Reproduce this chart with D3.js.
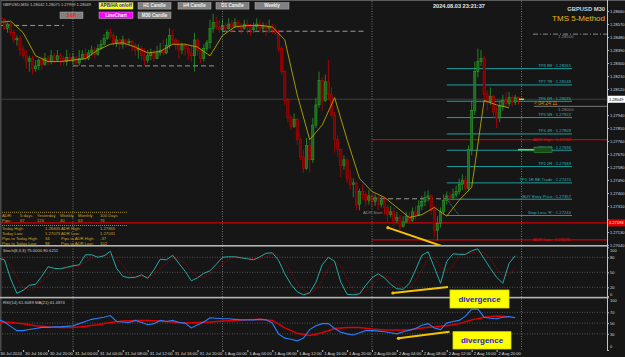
<!DOCTYPE html>
<html><head><meta charset="utf-8">
<script src="https://cdn.jsdelivr.net/npm/d3@7/dist/d3.min.js"></script>
<style>
html,body{margin:0;padding:0;background:#161616;}
svg{display:block;font-family:"Liberation Sans",Arial,sans-serif;}
</style></head><body>
<svg id="chart" width="625" height="357"></svg>
<script>
// GBPUSD M30, 30 Jul 12:00 -> 2 Aug 23:30 (168 bars)
var open0 = 1.2856;
var closes = [
 1.2861,1.2860,1.2854,1.2857,1.2851,1.2846,1.2847,1.2839,1.2835,1.2831,
 1.2833,1.2826,1.2828,1.2832,1.2829,1.2833,1.2831,1.2835,1.2832,1.2835,
 1.2833,1.2831,1.2834,1.2832,1.2834,1.2830,1.2833,1.2836,1.2833,1.2837,
 1.2839,1.2836,1.2840,1.2843,1.2847,1.2851,1.2849,1.2844,1.2846,1.2843,
 1.2846,1.2844,1.2845,1.2842,1.2839,1.2840,1.2835,1.2832,1.2835,1.2837,
 1.2833,1.2837,1.2839,1.2837,1.2842,1.2849,1.2846,1.2843,1.2839,1.2842,
 1.2840,1.2837,1.2835,1.2846,1.2839,1.2833,1.2840,1.2844,1.2854,1.2858,
 1.2855,1.2853,1.2856,1.2854,1.2857,1.2855,1.2858,1.2855,1.2854,1.2857,
 1.2855,1.2853,1.2855,1.2857,1.2854,1.2856,1.2854,1.2855,1.2853,1.2851,
 1.2840,1.2824,1.2804,1.2792,1.2786,1.2791,1.2777,1.2765,1.2757,1.2773,
 1.2763,1.2787,1.2801,1.2818,1.2804,1.2817,1.2808,1.2794,1.2777,1.2770,
 1.2759,1.2763,1.2750,1.2746,1.2747,1.2732,1.2741,1.2739,1.2735,1.2738,
 1.2734,1.2737,1.2732,1.2735,1.2730,1.2725,1.2727,1.2721,1.2723,1.2717,
 1.2720,1.2724,1.2721,1.2727,1.2725,1.2731,1.2734,1.2737,1.2738,1.2728,
 1.2714,1.2719,1.2727,1.2735,1.2738,1.2737,1.2739,1.2741,1.2746,1.2749,
 1.2743,1.2770,1.2797,1.2824,1.2831,1.2833,1.2808,1.2804,1.2807,1.2796,
 1.2792,1.2800,1.2804,1.2802,1.2806,1.2803,1.2806,1.2805];
var highs = [
 1.2864,1.2863,1.2861,1.2858,1.2858,1.2853,1.2849,1.2849,1.2842,1.2839,
 1.2835,1.2835,1.2832,1.2833,1.2835,1.2837,1.2835,1.2839,1.2837,1.2839,
 1.2837,1.2835,1.2839,1.2837,1.2837,1.2835,1.2839,1.2839,1.2840,1.2839,
 1.2842,1.2841,1.2843,1.2846,1.2850,1.2853,1.2854,1.2851,1.2849,1.2847,
 1.2849,1.2847,1.2847,1.2846,1.2844,1.2843,1.2842,1.2840,1.2839,1.2840,
 1.2839,1.2842,1.2844,1.2846,1.2847,1.2854,1.2853,1.2847,1.2846,1.2844,
 1.2843,1.2842,1.2842,1.2851,1.2847,1.2840,1.2843,1.2846,1.2860,1.2864,
 1.2862,1.2860,1.2860,1.2858,1.2861,1.2860,1.2861,1.2860,1.2858,1.2860,
 1.2860,1.2857,1.2858,1.2861,1.2860,1.2858,1.2858,1.2860,1.2857,1.2856,
 1.2853,1.2842,1.2825,1.2806,1.2794,1.2795,1.2792,1.2779,1.2770,1.2778,
 1.2777,1.2792,1.2806,1.2824,1.2820,1.2822,1.2832,1.2813,1.2796,1.2780,
 1.2770,1.2766,1.2764,1.2756,1.2750,1.2748,1.2743,1.2746,1.2741,1.2742,
 1.2739,1.2739,1.2738,1.2738,1.2737,1.2732,1.2731,1.2730,1.2727,1.2725,
 1.2724,1.2727,1.2727,1.2730,1.2731,1.2735,1.2738,1.2741,1.2742,1.2739,
 1.2731,1.2724,1.2730,1.2739,1.2741,1.2741,1.2743,1.2745,1.2750,1.2753,
 1.2752,1.2773,1.2804,1.2831,1.2840,1.2839,1.2835,1.2811,1.2813,1.2808,
 1.2800,1.2804,1.2808,1.2810,1.2810,1.2808,1.2808,1.2807];
var lows = [
 1.2855,1.2857,1.2853,1.2851,1.2849,1.2844,1.2842,1.2835,1.2833,1.2826,
 1.2824,1.2822,1.2824,1.2825,1.2825,1.2828,1.2828,1.2829,1.2830,1.2831,
 1.2828,1.2828,1.2828,1.2831,1.2829,1.2828,1.2828,1.2832,1.2831,1.2832,
 1.2835,1.2833,1.2835,1.2839,1.2842,1.2846,1.2847,1.2842,1.2841,1.2839,
 1.2840,1.2841,1.2842,1.2838,1.2835,1.2833,1.2832,1.2828,1.2830,1.2832,
 1.2831,1.2833,1.2835,1.2835,1.2836,1.2840,1.2842,1.2839,1.2833,1.2836,
 1.2835,1.2832,1.2831,1.2824,1.2835,1.2830,1.2831,1.2838,1.2840,1.2851,
 1.2853,1.2851,1.2851,1.2851,1.2853,1.2851,1.2854,1.2853,1.2850,1.2853,
 1.2850,1.2849,1.2851,1.2853,1.2851,1.2851,1.2849,1.2851,1.2850,1.2849,
 1.2838,1.2822,1.2801,1.2789,1.2784,1.2785,1.2773,1.2763,1.2754,1.2756,
 1.2754,1.2761,1.2785,1.2799,1.2797,1.2803,1.2804,1.2792,1.2768,1.2765,
 1.2751,1.2756,1.2747,1.2742,1.2737,1.2728,1.2728,1.2735,1.2731,1.2732,
 1.2730,1.2731,1.2728,1.2730,1.2725,1.2720,1.2723,1.2717,1.2719,1.2714,
 1.2716,1.2719,1.2719,1.2720,1.2721,1.2724,1.2728,1.2731,1.2734,1.2725,
 1.2709,1.2707,1.2716,1.2725,1.2732,1.2733,1.2735,1.2737,1.2739,1.2742,
 1.2741,1.2741,1.2766,1.2794,1.2820,1.2828,1.2804,1.2797,1.2801,1.2792,
 1.2785,1.2789,1.2797,1.2799,1.2800,1.2800,1.2801,1.2801];
// moving average on price, one value every 4 bars
var maValues = [1.2858,1.2859,1.2851,1.2835,1.2831,1.2831,1.2832,1.2833,1.2839,1.2843,
 1.2844,1.2841,1.2837,1.2838,1.2843,1.2843,1.2841,1.2835,1.2849,1.2855,
 1.2856,1.2856,1.2855,1.2846,1.2808,1.2777,1.2787,1.2806,1.2777,1.2750,
 1.2741,1.2737,1.2730,1.2723,1.2725,1.2730,1.2724,1.2735,1.2744,1.2804,1.2801,1.2799];
// stochastic main + signal, one value every 2 bars
var stochMain = [78,75,37,8,14,24,26,42,61,58,57,60,63,65,85,85,80,83,92,58,
 42,39,40,45,38,55,76,75,84,68,52,33,39,48,53,66,80,81,81,79,
 77,75,81,88,89,74,47,26,11,5,9,30,65,80,72,30,6,5,7,24,
 39,47,39,26,17,16,28,55,84,91,60,28,72,87,86,86,93,97,77,58,40,28,68,83];
var stochSignal = [80,77,63,40,20,15,21,31,43,54,59,58,60,63,71,78,83,83,85,78,
 64,46,40,41,41,46,56,69,78,76,68,51,41,40,47,56,66,76,81,80,
 79,77,78,81,86,84,70,49,28,14,8,15,35,58,72,61,36,14,6,12,
 23,37,42,37,27,20,20,33,56,77,78,60,53,62,82,86,88,92,89,77,58,42,45,60];
// RSI every 2 bars, its MA every 4 bars
var rsiValues = [57,52,44,36,36,38,40,42,42,43,43,44,45,49,53,57,59,61,64,53,
 52,51,55,51,47,49,55,53,55,51,50,41,47,52,60,59,58,58,57,56,
 56,56,57,56,50,30,22,20,17,22,38,45,49,49,40,33,30,28,32,36,
 36,35,34,32,30,34,37,40,46,49,41,38,50,53,55,63,76,76,61,59,58,61,62,60];
var rsiMa = [52,51,49,45,43,42,42,44,47,51,54,55,55,54,52,50,51,52,54,55,
 56,57,55,41,31,27,32,40,42,42,39,37,37,37,41,43,45,49,56,61,63,62];

var priceTicks = [1.2866,1.2857,1.2848,1.2839,1.2830,1.2821,1.2812,1.2803,1.2794,1.2785,
 1.2776,1.2767,1.2758,1.2749,1.2740,1.2731,1.2722,1.2713,1.2704];
var timeIdx = [0,8,16,24,32,40,48,56,64,72,80,88,96,104,112,120,128,136,144,152,160];
var timeLabels = ["30 Jul 2024","30 Jul 16:00","30 Jul 20:00","31 Jul 00:00","31 Jul 04:00",
 "31 Jul 08:00","31 Jul 12:00","31 Jul 16:00","31 Jul 20:00","1 Aug 00:00","1 Aug 04:00",
 "1 Aug 08:00","1 Aug 12:00","1 Aug 16:00","1 Aug 20:00","2 Aug 00:00","2 Aug 04:00",
 "2 Aug 08:00","2 Aug 12:00","2 Aug 16:00","2 Aug 20:00"];
var daySeps = [24,72,120,168];
var prevLevels = [[1.2856,0,21],[1.2828,24,70],[1.2852,72,118],[1.2736,120,144]];
var tpPrices = [1.28261,1.28148,1.28035,1.27922,1.27809,1.27696,1.27583,1.27470,1.27357,1.27244];
var tpNames = ["TP8 8R","TP7 7R","TP6 6R","TP5 5R","TP4 4R","TP3 3R","TP2 2R","TP1 1R BE Trade","BUY Entry Price","Stop Loss 'R'"];
var adrHigh = 1.27770, adrLow = 1.27075, redLevel = 1.27193, lastPrice = 1.28049;

var W = 625, plotR = 607;
var svg = d3.select("#chart");
svg.append("rect").attr("width", W).attr("height", 357).attr("fill", "#161616");

var x = d3.scaleLinear().domain([0, 167]).range([-1.8, 518.4]);
var y = d3.scaleLinear().domain([1.2704, 1.2866]).range([245, 11]);
var yS = d3.scaleLinear().domain([0, 100]).range([297.3, 247.3]);
var yR = d3.scaleLinear().domain([0, 100]).range([350, 296.2]);

svg.append("clipPath").attr("id", "mainClip").append("rect").attr("x", 0).attr("y", 0).attr("width", plotR).attr("height", 245);
var main = svg.append("g").attr("clip-path", "url(#mainClip)");

// borders
svg.append("rect").attr("x", 0).attr("y", 0).attr("width", W).attr("height", 1).attr("fill", "#5a5a5a");
svg.append("rect").attr("x", 0).attr("y", 0).attr("width", 1.5).attr("height", 351).attr("fill", "#4a4a4a");

// day separators
svg.selectAll(".daysep").data(daySeps).enter().append("line")
  .attr("x1", function(d){return x(d);}).attr("x2", function(d){return x(d);})
  .attr("y1", 1).attr("y2", 350).attr("stroke", "#8a8a8a").attr("stroke-width", 0.8).attr("stroke-dasharray", "1,1.5");

// bid line
main.append("line").attr("x1", 0).attr("x2", plotR).attr("y1", y(lastPrice)).attr("y2", y(lastPrice))
  .attr("stroke", "#3e3e3e").attr("stroke-width", 1);

// previous day high/low dashed
main.selectAll(".prev").data(prevLevels).enter().append("line")
  .attr("x1", function(d){return x(d[1]);}).attr("x2", function(d){return x(d[2]);})
  .attr("y1", function(d){return y(d[0]);}).attr("y2", function(d){return y(d[0]);})
  .attr("stroke", "#9a9a9a").attr("stroke-width", 1).attr("stroke-dasharray", "5,3");

// round levels at right
main.append("line").attr("x1", 533).attr("x2", plotR).attr("y1", y(1.285)).attr("y2", y(1.285))
  .attr("stroke", "#8a8a8a").attr("stroke-dasharray", "5,2,1,2");
main.append("line").attr("x1", 534).attr("x2", plotR).attr("y1", y(1.28)).attr("y2", y(1.28))
  .attr("stroke", "#777").attr("stroke-width", 1);
svg.append("text").attr("x", 558).attr("y", y(1.285) + 4).text("1.28500").attr("font-size", 4.3).attr("fill", "#8a8a8a");
svg.append("text").attr("x", 558).attr("y", y(1.28) + 4.5).text("1.28000").attr("font-size", 4.3).attr("fill", "#8a8a8a");

// red levels
main.append("line").attr("x1", 0).attr("x2", plotR).attr("y1", y(redLevel)).attr("y2", y(redLevel)).attr("stroke", "#d00000").attr("stroke-width", 1.2);
main.append("line").attr("x1", x(120)).attr("x2", plotR).attr("y1", y(adrHigh)).attr("y2", y(adrHigh)).attr("stroke", "#c80000").attr("stroke-width", 1.2);
main.append("line").attr("x1", x(120)).attr("x2", plotR).attr("y1", y(adrLow)).attr("y2", y(adrLow)).attr("stroke", "#c80000").attr("stroke-width", 1.2);
svg.append("text").attr("x", 533).attr("y", y(adrHigh) + 1.5).text("ADR High : 1.27767").attr("font-size", 4.3).attr("fill", "#e01010");
svg.append("text").attr("x", 533).attr("y", y(adrLow) + 1.5).text("ADR Low : 1.27075").attr("font-size", 4.3).attr("fill", "#e01010");

// TP / entry / stop levels
main.selectAll(".tp").data(tpPrices).enter().append("line")
  .attr("x1", x(144)).attr("x2", 572)
  .attr("y1", function(d){return y(d);}).attr("y2", function(d){return y(d);})
  .attr("stroke", "#1f9e9e").attr("stroke-width", 1);
svg.selectAll(".tpl").data(tpPrices).enter().append("text")
  .attr("x", 571).attr("y", function(d){return y(d) - 1.5;}).attr("text-anchor", "end")
  .text(function(d, i){return tpNames[i] + " : " + d.toFixed(5);})
  .attr("font-size", 4.2).attr("fill", "#29b3b3");
main.append("line").attr("x1", x(144)).attr("y1", y(tpPrices[8])).attr("x2", x(148)).attr("y2", y(tpPrices[9]))
  .attr("stroke", "#1f9e9e").attr("stroke-dasharray", "1,1");
svg.append("text").attr("x", 363).attr("y", 214).text("ADR Start").attr("font-size", 4.3).attr("fill", "#8a8a8a");

// candles
var bars = closes.map(function(c, i){
  var o = i === 0 ? open0 : closes[i - 1];
  return {i: i, o: o, c: c, h: Math.max(highs[i], o, c), l: Math.min(lows[i], o, c)};
});
var cg = main.append("g");
cg.selectAll(".wick").data(bars).enter().append("line")
  .attr("x1", function(d){return x(d.i);}).attr("x2", function(d){return x(d.i);})
  .attr("y1", function(d){return y(d.h);}).attr("y2", function(d){return y(d.l);})
  .attr("stroke", function(d){return d.c >= d.o ? "#2a9a2a" : "#c00000";}).attr("stroke-width", 0.8);
cg.selectAll(".body").data(bars).enter().append("rect")
  .attr("x", function(d){return x(d.i) - 1.1;}).attr("width", 2.2)
  .attr("y", function(d){return y(Math.max(d.o, d.c));})
  .attr("height", function(d){return Math.max(0.8, Math.abs(y(d.o) - y(d.c)));})
  .attr("fill", function(d){return d.c >= d.o ? "#1b6a1b" : "#7a0000";})
  .attr("stroke", function(d){return d.c >= d.o ? "#2fa52f" : "#cc0000";}).attr("stroke-width", 0.5);

// moving average
main.append("path").datum(maValues)
  .attr("d", d3.line().x(function(d, k){return x(k * 4);}).y(function(d){return y(d);}))
  .attr("fill", "none").attr("stroke", "#b3a600").attr("stroke-width", 0.9);

// markers near last bar
svg.append("line").attr("x1", 519).attr("x2", 524).attr("y1", y(lastPrice)).attr("y2", y(lastPrice)).attr("stroke", "#f0c800").attr("stroke-width", 1.5);
svg.append("text").attr("x", 534).attr("y", 104.5).text("< 04:24:11").attr("font-size", 5).attr("fill", "#d89000");
svg.append("line").attr("x1", 518).attr("x2", 534).attr("y1", y(1.277)).attr("y2", y(1.277)).attr("stroke", "#4cd964").attr("stroke-width", 1.5);
svg.append("rect").attr("x", 534).attr("y", y(1.277) - 2.6).attr("width", 18).attr("height", 5.2).attr("fill", "#1a4a1a").attr("stroke", "#34a034").attr("stroke-width", 0.6);

// divergence on price
function divLine(g, p0, p1, sx, sy){
  g.append("line").attr("x1", sx(p0[0])).attr("y1", sy(p0[1])).attr("x2", sx(p1[0])).attr("y2", sy(p1[1]))
    .attr("stroke", "#f5c400").attr("stroke-width", 2);
  g.append("circle").attr("cx", sx(p0[0])).attr("cy", sy(p0[1])).attr("r", 1.6).attr("fill", "#f5c400");
}
divLine(main, [125.1, 1.2716], [142.8, 1.2703], x, y);

// info table
var tbl = svg.append("g").attr("font-size", 4.2).attr("fill", "#c9a227");
[212.3, 225.5].forEach(function(yy){
  svg.append("line").attr("x1", 2).attr("x2", 127).attr("y1", yy).attr("y2", yy).attr("stroke", "#a88a2a").attr("stroke-dasharray", "1,1");
});
var tblCols = [2, 20, 37, 60, 78, 100];
["ADR:", "5 days", "Yesterday", "Weekly", "Monthly", "100 Days"].forEach(function(t, k){ tbl.append("text").attr("x", tblCols[k]).attr("y", 216.5).text(t); });
["Pips:", "67", "126", "40", "63", "76"].forEach(function(t, k){ tbl.append("text").attr("x", tblCols[k]).attr("y", 221.5).text(t); });
var tblRows = [["Today High:", "1.28405", "ADR High:", "1.27865"], ["Today Low:", "1.27073", "ADR Low:", "1.27031"],
  ["Pips to Today High:", "34", "Pips to ADR High:", "-37"], ["Pips to Today Low:", "98", "Pips to ADR Low:", "102"]];
var rowCols = [2, 45, 61, 100];
tblRows.forEach(function(r, j){
  r.forEach(function(t, k){ tbl.append("text").attr("x", rowCols[k]).attr("y", 229.8 + j * 5.1).text(t); });
});

// panel separators
svg.append("rect").attr("x", 0).attr("y", 245).attr("width", plotR).attr("height", 1.6).attr("fill", "#b4b4b4");
svg.append("rect").attr("x", 0).attr("y", 296.8).attr("width", plotR).attr("height", 1.6).attr("fill", "#b4b4b4");

// stochastic panel
var gridS = [80, 50, 20], gridR = [70, 50, 30];
svg.selectAll(".gs").data(gridS).enter().append("line").attr("x1", 2).attr("x2", plotR)
  .attr("y1", function(d){return yS(d);}).attr("y2", function(d){return yS(d);})
  .attr("stroke", "#6a6a6a").attr("stroke-width", 0.7).attr("stroke-dasharray", "1,1.5");
svg.append("path").datum(stochSignal)
  .attr("d", d3.line().x(function(d, k){return x(k * 2);}).y(function(d){return yS(d);}))
  .attr("fill", "none").attr("stroke", "#b00000").attr("stroke-width", 0.8).attr("stroke-dasharray", "1,1");
svg.append("path").datum(stochMain)
  .attr("d", d3.line().x(function(d, k){return x(k * 2);}).y(function(d){return yS(d);}))
  .attr("fill", "none").attr("stroke", "#26aaa4").attr("stroke-width", 1);
svg.append("text").attr("x", 3).attr("y", 252).text("Stoch(8,3,3) 75.0000 80.6211").attr("font-size", 4.2).attr("fill", "#c8c8c8");

// RSI panel
svg.selectAll(".gr").data(gridR).enter().append("line").attr("x1", 2).attr("x2", plotR)
  .attr("y1", function(d){return yR(d);}).attr("y2", function(d){return yR(d);})
  .attr("stroke", "#6a6a6a").attr("stroke-width", 0.7).attr("stroke-dasharray", "1,1.5");
svg.append("path").datum(rsiMa)
  .attr("d", d3.line().x(function(d, k){return x(k * 4);}).y(function(d){return yR(d);}))
  .attr("fill", "none").attr("stroke", "#e00000").attr("stroke-width", 1.5);
svg.append("path").datum(rsiValues)
  .attr("d", d3.line().x(function(d, k){return x(k * 2);}).y(function(d){return yR(d);}))
  .attr("fill", "none").attr("stroke", "#2a7fff").attr("stroke-width", 1.1);
svg.append("text").attr("x", 3).attr("y", 303.5).text("RSI(14) 61.6089  MA(21) 61.4874").attr("font-size", 4.2).attr("fill", "#c8c8c8");

divLine(svg, [126.7, 8.6], [144.4, 20.6], x, yS);
divLine(svg, [128.5, 21.7], [144.9, 34], x, yR);

// divergence labels
[[450, 290, 59, 18], [453, 331.7, 58, 17.3]].forEach(function(b){
  svg.append("rect").attr("x", b[0]).attr("y", b[1]).attr("width", b[2]).attr("height", b[3])
    .attr("fill", "#ffff00").attr("stroke", "#d8d800").attr("stroke-width", 0.8);
  svg.append("text").attr("x", b[0] + b[2] / 2).attr("y", b[1] + b[3] / 2 + 3).attr("text-anchor", "middle")
    .text("divergence").attr("font-size", 8).attr("font-weight", "bold").attr("fill", "#2222cc");
});

// price axis
svg.append("line").attr("x1", plotR + 0.5).attr("x2", plotR + 0.5).attr("y1", 0).attr("y2", 350).attr("stroke", "#c4c4c4").attr("stroke-width", 1);
function styleAxis(g){
  g.select(".domain").remove();
  g.selectAll("line").attr("stroke", "#bbb");
  g.selectAll("text").attr("font-size", 4).attr("fill", "#dcdcdc").attr("font-family", "Liberation Sans, Arial, sans-serif");
}
var boxed = [lastPrice, redLevel];
svg.append("g").attr("transform", "translate(" + plotR + ",0)")
  .call(d3.axisRight(y).tickValues(priceTicks).tickFormat(d3.format(".5f")).tickSize(2).tickPadding(1).tickSizeOuter(0))
  .call(styleAxis)
  .selectAll("text").attr("opacity", function(d){
    return boxed.some(function(b){return Math.abs(y(b) - y(d)) < 5;}) ? 0 : 1;
  });
svg.append("g").attr("transform", "translate(" + plotR + ",0)")
  .call(d3.axisRight(yS).tickValues([0, 20, 50, 80, 100]).tickSize(2).tickPadding(1).tickSizeOuter(0))
  .call(styleAxis)
  .selectAll("text").attr("dy", function(d){return d === 100 ? "1.0em" : (d === 0 ? "-0.4em" : "0.32em");});
svg.append("g").attr("transform", "translate(" + plotR + ",0)")
  .call(d3.axisRight(yR).tickValues([0, 30, 50, 70, 100]).tickSize(2).tickPadding(1).tickSizeOuter(0))
  .call(styleAxis)
  .selectAll("text").attr("dy", function(d){return d === 100 ? "1.3em" : (d === 0 ? "-0.6em" : "0.32em");});

// current price and red level boxes
[[lastPrice, "#ffffff", "#000000"], [redLevel, "#e00000", "#ffffff"]].forEach(function(b){
  svg.append("rect").attr("x", plotR + 1).attr("y", y(b[0]) - 3.5).attr("width", W - plotR - 1).attr("height", 7).attr("fill", b[1]);
  svg.append("text").attr("x", plotR + 2).attr("y", y(b[0]) + 1.5).text(b[0].toFixed(5)).attr("font-size", 4).attr("fill", b[2]);
});

// time axis
svg.append("g").attr("transform", "translate(0,350)")
  .call(d3.axisBottom(x).tickValues(timeIdx).tickFormat(function(d, i){return timeLabels[i];}).tickSize(2).tickSizeOuter(0))
  .call(styleAxis)
  .selectAll("text").attr("text-anchor", "start").attr("dx", 1.5).attr("y", 4.6).attr("dy", 0).attr("font-size", 4.2);

// header and buttons
svg.append("text").attr("x", 3).attr("y", 6).text("GBPUSD,M30  1.28042 1.28071 1.27999 1.28049").attr("font-size", 4).attr("fill", "#c8c8c8");
var buttons = [
  ["APB/HA on/off", 99, 2.5, 34, "#ffff00", "#1a1acc"],
  ["H1 Candle", 138, 2.5, 33, "#808080", "#f0f0f0"],
  ["H4 Candle", 178, 2.5, 33, "#808080", "#f0f0f0"],
  ["D1 Candle", 216, 2.5, 33, "#808080", "#f0f0f0"],
  ["Weekly", 255, 2.5, 34, "#808080", "#f0f0f0"],
  ["S&R", 60, 12, 23, "#808080", "#ff2020"],
  ["LineChart", 99, 12, 34, "#ff00ff", "#ffffff"],
  ["M30 Candle", 138, 12, 33, "#808080", "#f0f0f0"]];
buttons.forEach(function(b){
  svg.append("rect").attr("x", b[1]).attr("y", b[2]).attr("width", b[3]).attr("height", 6.6)
    .attr("fill", b[4]).attr("stroke", "#b0b0b0").attr("stroke-width", 0.5);
  svg.append("text").attr("x", b[1] + b[3] / 2).attr("y", b[2] + 4.9).attr("text-anchor", "middle")
    .text(b[0]).attr("font-size", 4.6).attr("font-weight", "bold").attr("fill", b[5]);
});
svg.append("text").attr("x", 433).attr("y", 7.5).text("2024.08.03 23:21:37").attr("font-size", 5.6).attr("font-weight", "bold").attr("fill", "#e6e6e6");
svg.append("text").attr("x", 605).attr("y", 10.5).attr("text-anchor", "end").text("GBPUSD M30").attr("font-size", 5.8).attr("font-weight", "bold").attr("fill", "#d4d4d4");
svg.append("text").attr("x", 605).attr("y", 20.5).attr("text-anchor", "end").text("TMS 5-Method").attr("font-size", 8).attr("fill", "#e6b422");
</script></body></html>
